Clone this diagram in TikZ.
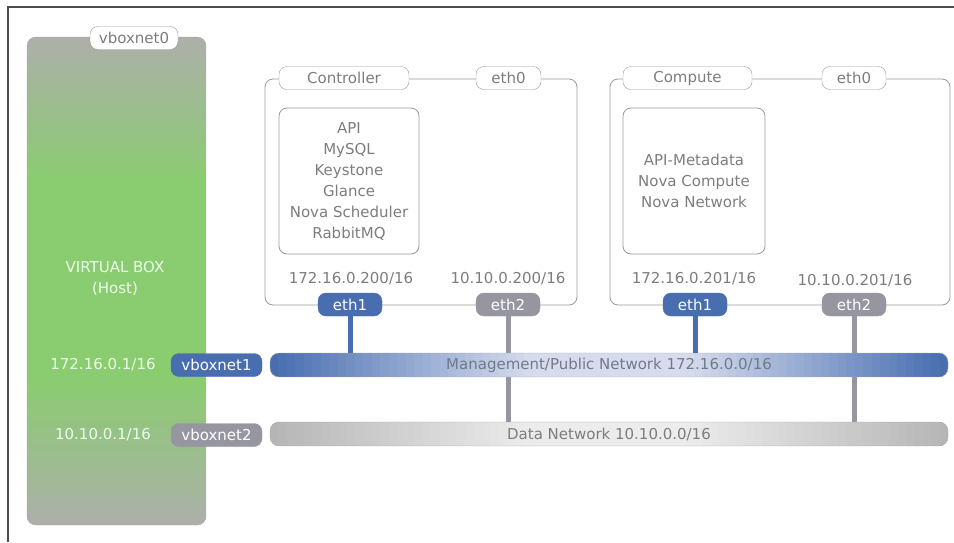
\documentclass[tikz,border=0pt]{standalone}
\usepackage{fontspec}
\setmainfont{DejaVu Sans}
\usepackage{tikz}
\usetikzlibrary{calc}

\definecolor{netblue}{RGB}{72,110,176}
\definecolor{netlight}{RGB}{214,220,238}
\definecolor{netgray}{RGB}{150,150,160}
\definecolor{datagray}{RGB}{182,182,182}
\definecolor{datalight}{RGB}{236,236,236}
\definecolor{txtgray}{RGB}{125,125,125}
\definecolor{hostgreen}{RGB}{138,204,112}
\definecolor{hostgray}{RGB}{172,176,168}

\tikzset{
  txt/.style={font=\fontsize{15}{21}\selectfont, text=txtgray},
  pill/.style={draw=gray!80, fill=white, rounded corners=8pt, minimum height=23pt,
    inner sep=0pt, txt},
  bluepill/.style={pill, draw=netblue, fill=netblue, text=white},
  graypill/.style={pill, draw=netgray, fill=netgray, text=white},
  % gradient in slices: #1 at the ends, #2 in the middle
  vgrad/.style 2 args={path picture={
    \foreach \i in {0,...,59}{
      \pgfmathsetmacro\p{min(100,170*(1-abs(2*\i/59-1)))}
      \pgfmathsetmacro\ta{\i/60}
      \pgfmathsetmacro\tb{(\i+1.6)/60}
      \fill[sharp corners, #2!\p!#1]
        ($(path picture bounding box.north west)!\ta!(path picture bounding box.south west)$)
        rectangle
        ($(path picture bounding box.north east)!\tb!(path picture bounding box.south east)$);
    }}},
  hgrad/.style 2 args={path picture={
    \foreach \i in {0,...,79}{
      \pgfmathsetmacro\p{min(100,130*(1-abs(2*\i/79-1)))}
      \pgfmathsetmacro\ta{\i/80}
      \pgfmathsetmacro\tb{(\i+1.6)/80}
      \fill[sharp corners, #2!\p!#1]
        ($(path picture bounding box.south west)!\ta!(path picture bounding box.south east)$)
        rectangle
        ($(path picture bounding box.north west)!\tb!(path picture bounding box.north east)$);
    }}},
  hostbox/.style={draw=gray!70, rounded corners=9pt, inner sep=0pt, vgrad={hostgray}{hostgreen}},
  nodebox/.style={draw=gray!80, rounded corners=8pt, inner sep=0pt, line width=0.8pt},
  svcbox/.style={nodebox, align=center, txt},
  bar/.style={draw=gray!70, rounded corners=9pt, inner sep=0pt,
    minimum width=678pt, minimum height=24pt, txt},
  link/.style={line width=5pt}
}

\begin{document}
\begin{tikzpicture}[x=1pt, y=-1pt]
	\useasboundingbox (0,0) rectangle (954,542);
	% frame
	\draw[line width=1.2pt, gray!60!black] (8,542) -- (8,7) -- (954,7);
	% host
	\node[hostbox, minimum width=179pt, minimum height=488pt] (host) at (116.5,281) {};
	\node[txt, text=white!92!green, align=center] (hostlbl) at (115,278) {VIRTUAL BOX\\(Host)};
	\node[pill, minimum width=88pt] (vbn0) at (134,38) {vboxnet0};
	\node[txt, text=white!92!green] (hostip1) at (103,365) {172.16.0.1/16};
	\node[txt, text=white!92!green] (hostip2) at (103,435) {10.10.0.1/16};
	\node[bluepill, minimum width=91pt] (vbn1) at (216.5,365) {vboxnet1};
	\node[graypill, minimum width=91pt] (vbn2) at (216.5,435) {vboxnet2};
	% controller
	\node[nodebox, minimum width=312pt, minimum height=226pt] (ctrl) at (421,192) {};
	\node[pill, minimum width=130pt] (ctrlname) at (344,78) {Controller};
	\node[pill, minimum width=65pt] (ctrleth0) at (508.5,78) {eth0};
	\node[svcbox, minimum width=140pt, minimum height=146pt] (ctrlsvc) at (349,181)
		{API\\MySQL\\Keystone\\Glance\\Nova Scheduler\\RabbitMQ};
	\node[txt] (ctrlip1) at (351,279) {172.16.0.200/16};
	\node[txt] (ctrlip2) at (508,279) {10.10.0.200/16};
	\node[bluepill, minimum width=64pt] (ctrleth1) at (350,304.5) {eth1};
	\node[graypill, minimum width=64pt] (ctrleth2) at (508,304.5) {eth2};
	% compute
	\node[nodebox, minimum width=340pt, minimum height=226pt] (comp) at (780,192) {};
	\node[pill, minimum width=129pt] (compname) at (687.5,78) {Compute};
	\node[pill, minimum width=64pt] (competh0) at (854,78) {eth0};
	\node[svcbox, minimum width=142pt, minimum height=146pt] (compsvc) at (694,181)
		{API-Metadata\\Nova Compute\\Nova Network};
	\node[txt] (compip1) at (694,279) {172.16.0.201/16};
	\node[txt] (compip2) at (855,281) {10.10.0.201/16};
	\node[bluepill, minimum width=64pt] (competh1) at (695,304.5) {eth1};
	\node[graypill, minimum width=64pt] (competh2) at (854,304.5) {eth2};
	% data network
	\node[bar, hgrad={datagray}{datalight}] (data) at (609,434)
		{Data Network 10.10.0.0/16};
	\draw[link, netgray] (ctrleth2.south) -- (ctrleth2.south |- data.north);
	\draw[link, netgray] (competh2.south) -- (competh2.south |- data.north);
	% management network
	\node[bar, hgrad={netblue}{netlight}, text=txtgray!80!netblue] (mgmt) at (609,365)
		{Management/Public Network 172.16.0.0/16};
	\draw[link, netblue] (ctrleth1.south) -- (ctrleth1.south |- mgmt.north);
	\draw[link, netblue] (competh1.south) -- (competh1.south |- mgmt.north);
\end{tikzpicture}
\end{document}
